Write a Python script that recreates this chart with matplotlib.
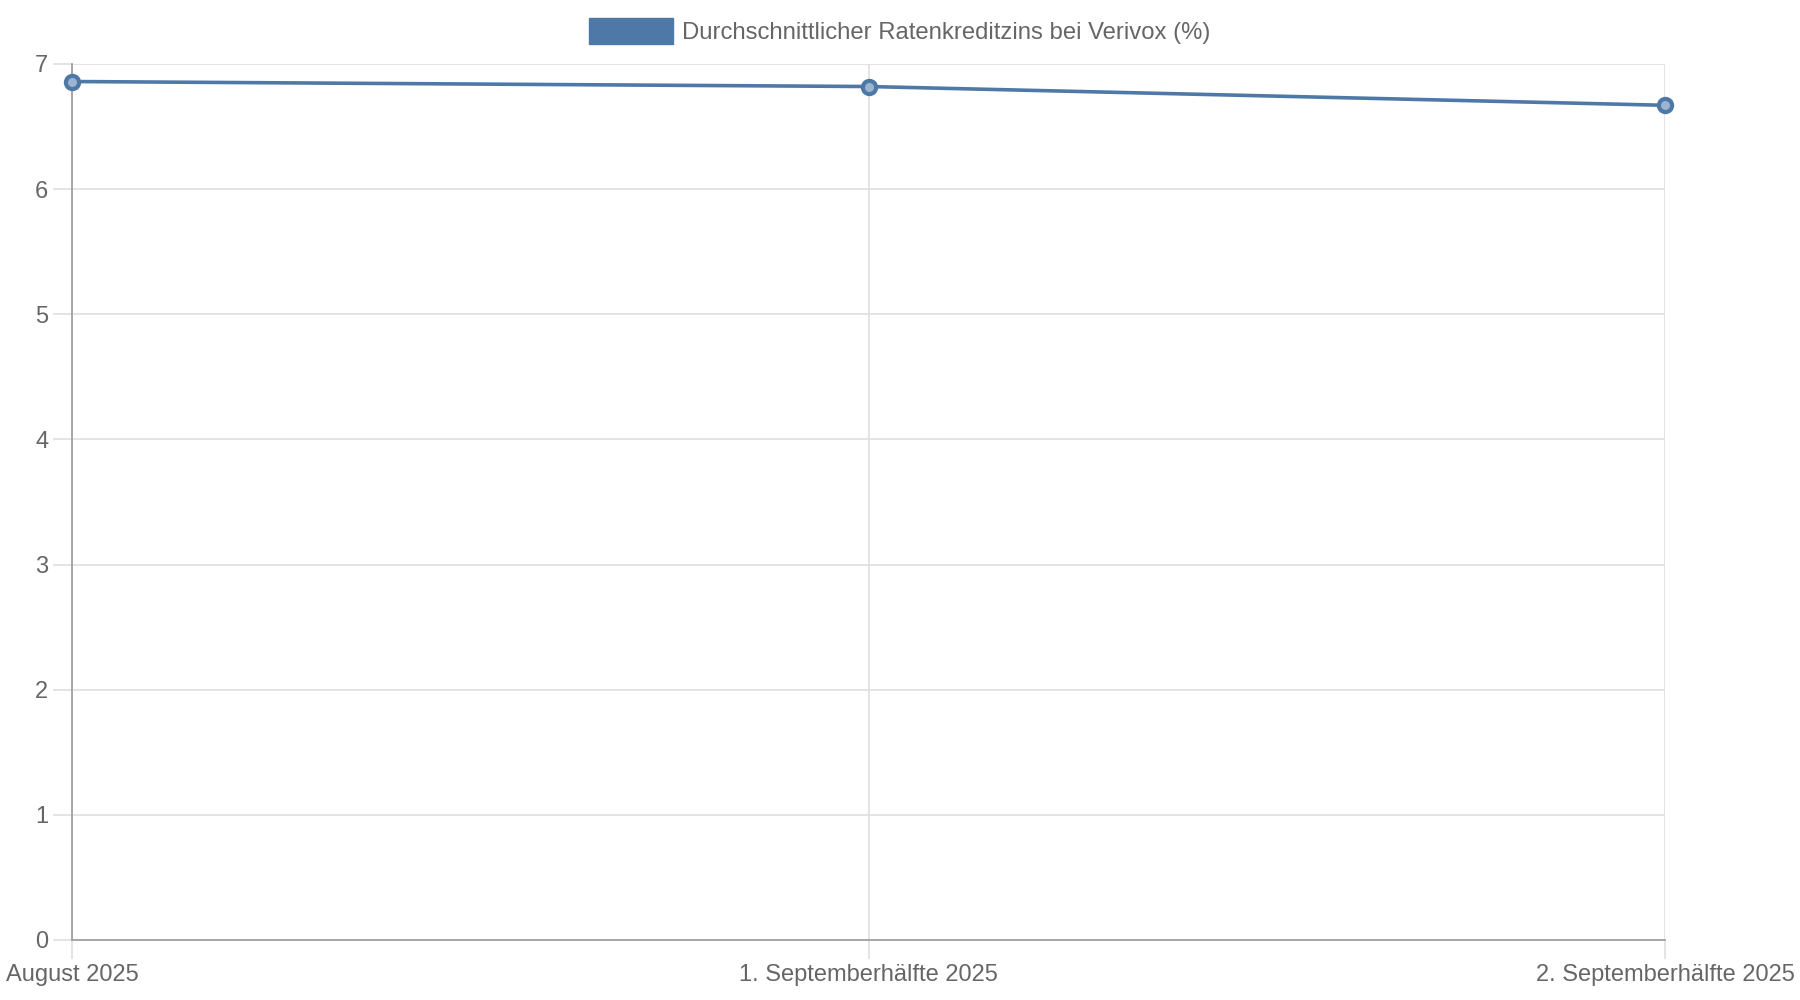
import matplotlib.pyplot as plt
from matplotlib.patches import Patch

plt.rcParams["font.family"] = ["Liberation Sans", "DejaVu Sans"]

labels = ["August 2025", "1. Septemberhälfte 2025", "2. Septemberhälfte 2025"]
zins = [6.86, 6.82, 6.67]
series_name = "Durchschnittlicher Ratenkreditzins bei Verivox (%)"

blue = "#4e79a7"
grid = "#e2e2e2"
text = "#666666"

fig = plt.figure(figsize=(18, 10), dpi=100)
ax = fig.add_axes([0.04, 0.06, 0.885, 0.876])

x = list(range(len(labels)))
ax.plot(x, zins, color=blue, lw=2.6, marker="o", ms=9.5,
        mfc="#9db4d0", mec=blue, mew=3, zorder=3, clip_on=False)

ax.set_xlim(0, len(labels) - 1)
ax.set_ylim(0, 7)
ax.set_xticks(x)
ax.set_xticklabels(labels)
ax.set_yticks(range(0, 8))

ax.grid(True, color=grid, lw=1.3)
ax.set_axisbelow(True)
for side in ["top", "right"]:
    ax.spines[side].set_visible(False)
ax.spines["left"].set_color("#a0a0a0")
ax.spines["bottom"].set_color("#a0a0a0")
ax.spines["left"].set_linewidth(1.3)
ax.spines["bottom"].set_linewidth(1.3)
ax.tick_params(axis="both", colors=grid, length=14, width=1.3,
               labelcolor=text, labelsize=17)
ax.tick_params(axis="x", pad=3)
ax.tick_params(axis="y", pad=3)

fig.legend(handles=[Patch(facecolor=blue, edgecolor=blue, label=series_name)],
           loc="upper center", bbox_to_anchor=(0.5, 1.0), frameon=False,
           fontsize=17.2, labelcolor=text, handlelength=3.5, handleheight=1.28,
           handletextpad=0.4, borderaxespad=0.35)

fig.savefig("out.png")
